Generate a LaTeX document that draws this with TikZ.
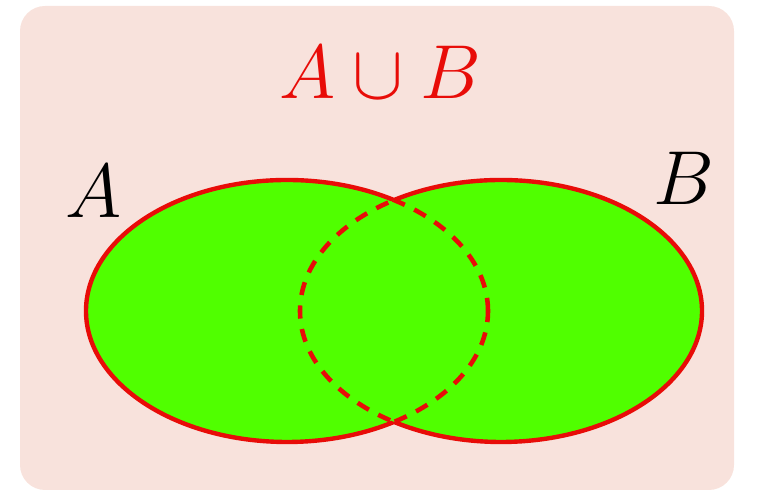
\documentclass[tikz,border=0pt]{standalone}
\usepackage{amsmath}
\usepackage{amssymb}
\usetikzlibrary{positioning}

\definecolor{bgpink}{RGB}{248,226,220}
\definecolor{setgreen}{RGB}{80,255,0}
\definecolor{setred}{RGB}{232,12,8}

\tikzset{
    setline/.style={setred,line width=2.5pt},
    setdash/.style={setred,line width=2.6pt,dash pattern=on 7.5pt off 6pt},
    setlabel/.style={scale=1.75,font=\Huge}
}

\begin{document}
\begin{tikzpicture}[x=0.02cm,y=0.02cm]
        \useasboundingbox (0,0) rectangle (758,492);
        \fill[bgpink,rounded corners=0.5cm] (20,2) rectangle (734,486);

        \fill[setgreen] (287,181) ellipse (201 and 131);
        \fill[setgreen] (501,181) ellipse (201 and 131);

        \begin{scope}
            \clip (501,181) ellipse (201 and 131);
            \draw[setdash] (287,181) ellipse (201 and 131);
        \end{scope}
        \begin{scope}
            \clip (287,181) ellipse (201 and 131);
            \draw[setdash] (501,181) ellipse (201 and 131);
        \end{scope}
        \begin{scope}[even odd rule]
            \clip (0,0) rectangle (758,492) (501,181) ellipse (201 and 131);
            \draw[setline] (287,181) ellipse (201 and 131);
        \end{scope}
        \begin{scope}[even odd rule]
            \clip (0,0) rectangle (758,492) (287,181) ellipse (201 and 131);
            \draw[setline] (501,181) ellipse (201 and 131);
        \end{scope}

        \node[setlabel,setred] (union) at (380,420) {\(A\cup B\)};
        \node[setlabel] (labA) at (94,301) {\(A\)};
        \node[setlabel] (labB) at (684,314) {\(B\)};
    \end{tikzpicture}
\end{document}
